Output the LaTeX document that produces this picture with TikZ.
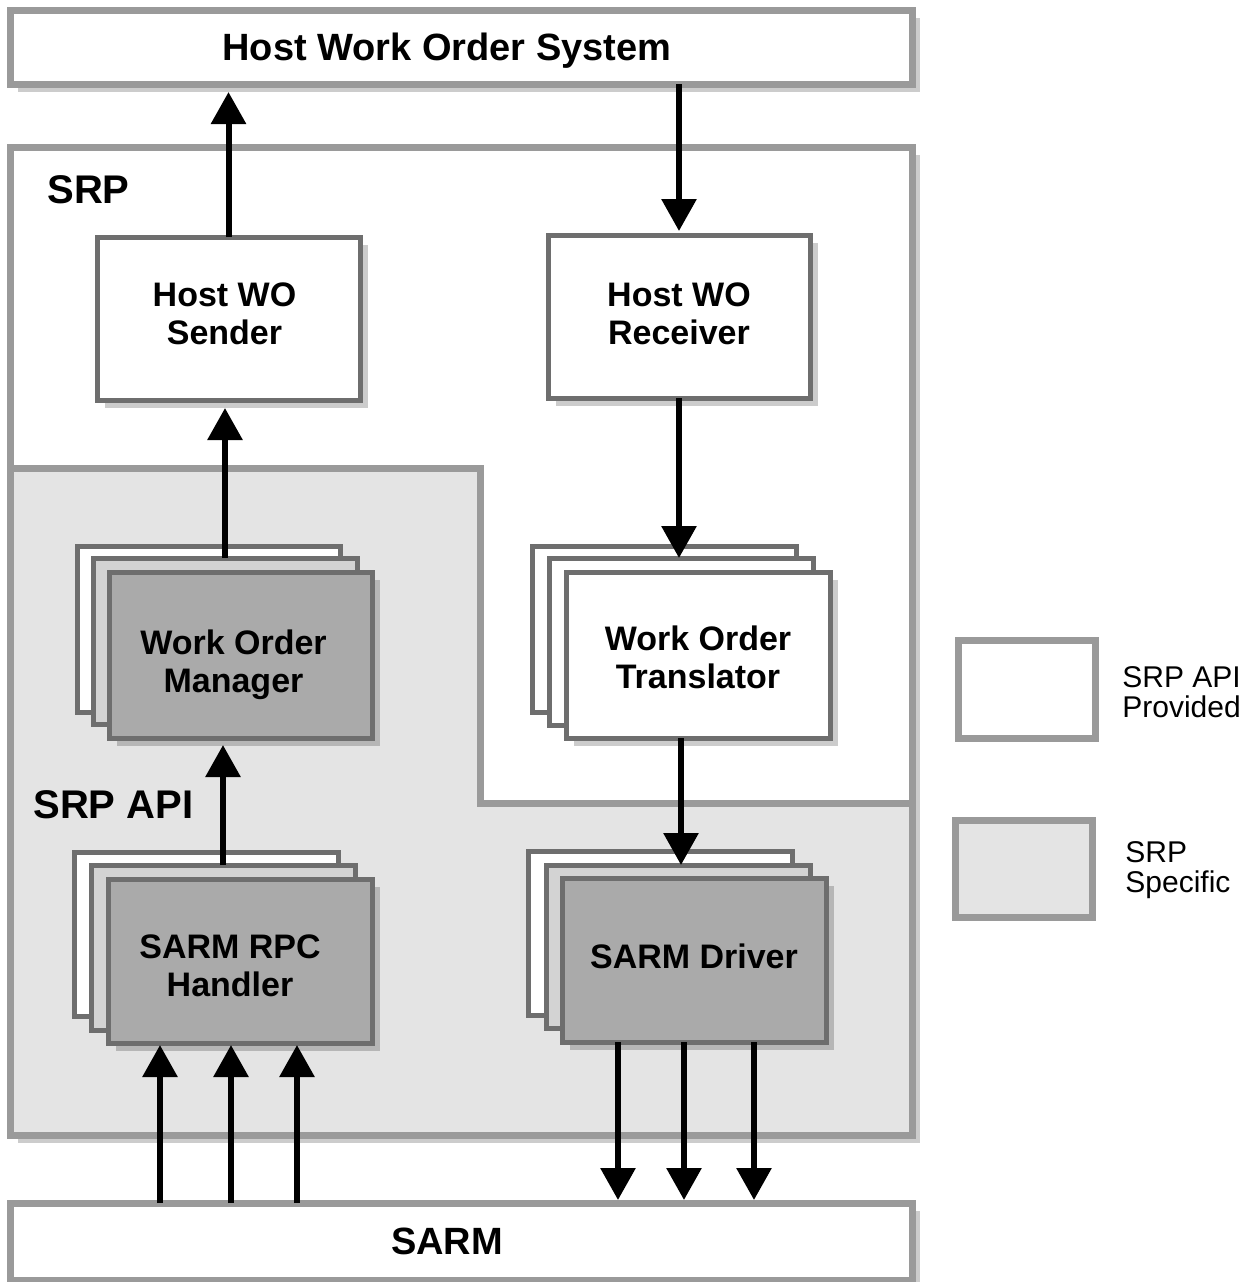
\documentclass[tikz,border=0pt]{standalone}
\usepackage{fontspec}
\setmainfont{Liberation Sans}
\usetikzlibrary{arrows.meta,fit,shadows}
\definecolor{outergray}{HTML}{9A9A9A}
\definecolor{boxgray}{HTML}{6E6E6E}
\definecolor{lightfill}{HTML}{E4E4E4}
\definecolor{midfill}{HTML}{D3D3D3}
\definecolor{darkfill}{HTML}{AAAAAA}
\begin{document}
\begin{tikzpicture}[x=0.5pt,y=-0.5pt,
  shad/.style={drop shadow={shadow xshift=4pt,shadow yshift=-4pt,opacity=0.2,fill=black}},
  bigbox/.style={draw=outergray,line width=3.5pt,fill=white,inner sep=0pt,outer sep=0pt},
  wobox/.style={draw=boxgray,line width=2.5pt,fill=white,inner sep=0pt,outer sep=0pt},
  boxtext/.style={align=center,inner sep=0pt,font=\bfseries\fontsize{17}{19}\selectfont},
  stackw/.style={wobox},
  stackm/.style={wobox,fill=midfill},
  stackd/.style={wobox,fill=darkfill},
  arr/.style={line width=3pt,-{Triangle[width=17pt,length=16pt]}},
  lbl/.style={font=\bfseries\fontsize{20}{24}\selectfont,anchor=base west,inner sep=0pt},
  leg/.style={font=\fontsize{15}{18}\selectfont,anchor=base west,inner sep=0pt},
  titlefont/.style={font=\bfseries\fontsize{19}{22}\selectfont},
]
\useasboundingbox[fill=white] (0,0) rectangle (1249,1282);

% Host work order system
\node[bigbox,shad,fit={(10,10)(912,84)},
  label={[titlefont,xshift=-7pt,yshift=-2pt]center:Host Work Order System}] (hws) {};

% SRP container
\node[bigbox,shad,fit={(10,147)(912,1135)}] (srp) {};
\fill[lightfill] (10,468) -- (480,468) -- (480,803) -- (912,803) -- (912,1135) -- (10,1135) -- cycle;
\draw[draw=outergray,line width=3.5pt] (10,468) -- (480,468) -- (480,803) -- (912,803);
\draw[draw=outergray,line width=3.5pt] (srp.north west) rectangle (srp.south east);

% SARM
\node[bigbox,shad,fit={(10,1203)(912,1280)},
  label={[titlefont,xshift=-7pt]center:SARM}] (sarm) {};

% labels
\node[lbl] (srplbl) at (47,203) {SRP};
\node[lbl] (apilbl) at (33,818) {SRP API};

% Host WO boxes
\node[wobox,shad,fit={(97,237)(360,400)},
  label={[boxtext,xshift=-2pt,yshift=2.25pt]center:Host WO\\Sender}] (snd) {};
\node[wobox,shad,fit={(548,235)(810,398)},
  label={[boxtext,yshift=1.5pt]center:Host WO\\Receiver}] (rcv) {};

% Work Order Manager stack
\node[stackw,fit={(77,546)(340,712)}] (wom1) {};
\node[stackm,fit={(93,558)(357,724)}] (wom2) {};
\node[stackd,shad,fit={(109,572)(372,738)},
  label={[boxtext,xshift=-3.5pt,yshift=-5pt]center:Work Order\\Manager}] (wom3) {};

% Work Order Translator stack
\node[stackw,fit={(532,546)(796,712)}] (wot1) {};
\node[stackw,fit={(549,558)(813,725)}] (wot2) {};
\node[stackw,shad,fit={(566,572)(830,738)},
  label={[boxtext,yshift=-1.25pt]center:Work Order\\Translator}] (wot3) {};

% SARM RPC Handler stack
\node[stackw,fit={(74,852)(338,1016)}] (rpc1) {};
\node[stackm,fit={(91,865)(355,1030)}] (rpc2) {};
\node[stackd,shad,fit={(108,879)(372,1043)},
  label={[boxtext,xshift=-5pt,yshift=-2.5pt]center:SARM RPC\\Handler}] (rpc3) {};

% SARM Driver stack
\node[stackw,fit={(528,851)(792,1015)}] (drv1) {};
\node[stackm,fit={(546,865)(810,1028)}] (drv2) {};
\node[stackd,shad,fit={(562,878)(826,1042)},
  label={[boxtext,yshift=2pt]center:SARM Driver}] (drv3) {};

% arrows
\draw[arr,shorten >=4pt] (snd.north) -- (snd.north |- hws.south);
\draw[arr,shorten >=2pt] (hws.south -| rcv.north) -- (rcv.north);
\draw[arr] (rcv.south) -- (rcv.south |- wot2.north);
\draw[arr,shorten >=4pt] (wom2.north) -- (wom2.north |- snd.south);
\draw[arr,shorten >=3.5pt] (rpc2.north) -- (rpc2.north |- wom3.south);
\draw[arr] (wot2.north |- wot3.south) -- (wot2.north |- drv2.north);

\coordinate (u1) at ([xshift=-40pt]rpc3.south);
\coordinate (u2) at ([xshift=-4.5pt]rpc3.south);
\coordinate (u3) at ([xshift=28.5pt]rpc3.south);
\draw[arr,shorten >=1pt] (sarm.north -| u1) -- (u1);
\draw[arr,shorten >=1pt] (sarm.north -| u2) -- (u2);
\draw[arr,shorten >=1pt] (sarm.north -| u3) -- (u3);

\coordinate (d1) at ([xshift=-38pt]drv3.south);
\coordinate (d2) at ([xshift=-5pt]drv3.south);
\coordinate (d3) at ([xshift=30pt]drv3.south);
\draw[arr,shorten >=1.5pt] (d1) -- (sarm.north -| d1);
\draw[arr,shorten >=1.5pt] (d2) -- (sarm.north -| d2);
\draw[arr,shorten >=1.5pt] (d3) -- (sarm.north -| d3);

% legend
\node[bigbox,fit={(958,640)(1095,738)}] (lgw) {};
\node[bigbox,fill=lightfill,fit={(955,820)(1092,917)}] (lgg) {};
\node[leg] (lgw1) at (1122,687) {SRP API};
\node[leg] (lgw2) at (1122,717) {Provided};
\node[leg] (lgg1) at (1125,862) {SRP};
\node[leg] (lgg2) at (1125,892) {Specific};
\end{tikzpicture}
\end{document}
